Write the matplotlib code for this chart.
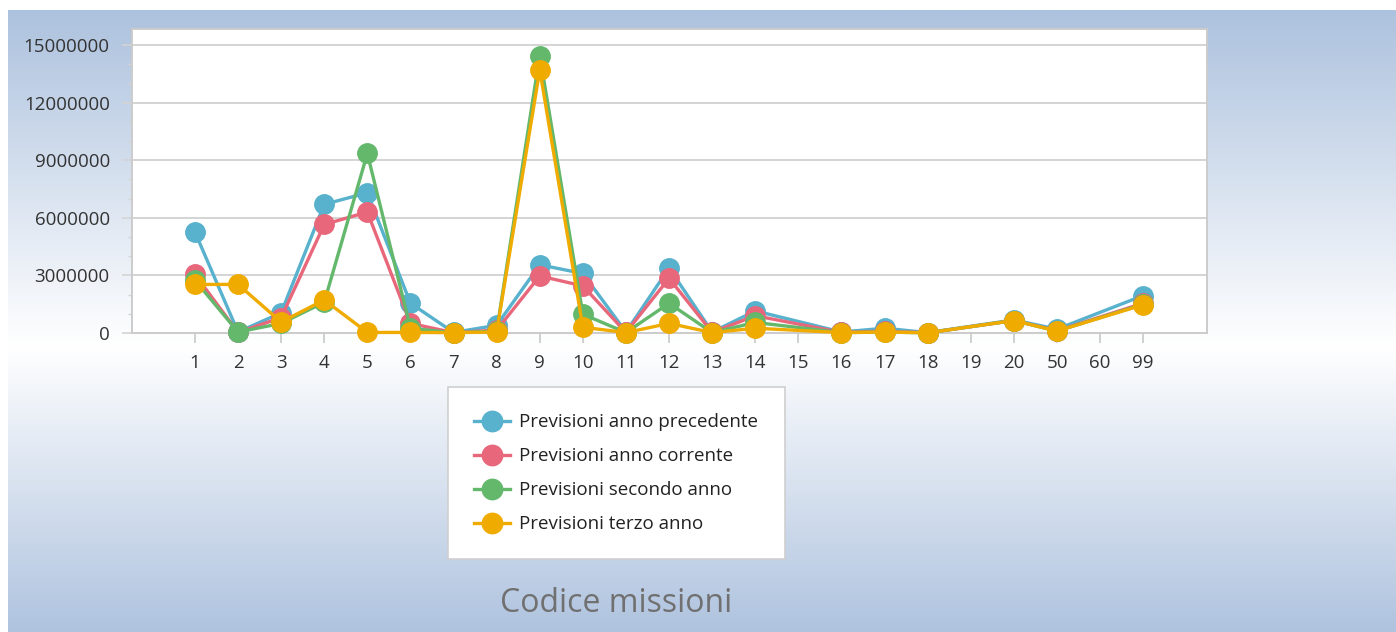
import numpy as np
import matplotlib
matplotlib.use("Agg")
from matplotlib import pyplot as plt
from matplotlib.ticker import MultipleLocator, FuncFormatter
from matplotlib.colors import to_rgb

## chart data (NaN = no value for that code)
nan = np.nan
categories = ["1", "2", "3", "4", "5", "6", "7", "8", "9", "10", "11", "12",
              "13", "14", "15", "16", "17", "18", "19", "20", "50", "60", "99"]
prev_precedente = [5.26e6, 0.05e6, 1.05e6, 6.70e6, 7.30e6, 1.55e6, 0.03e6, 0.40e6,
                   3.55e6, 3.10e6, 0.05e6, 3.38e6, 0.05e6, 1.15e6, nan, 0.05e6,
                   0.25e6, 0.02e6, nan, 0.68e6, 0.20e6, nan, 1.95e6]
prev_corrente = [3.05e6, 0.03e6, 0.80e6, 5.65e6, 6.30e6, 0.50e6, 0.02e6, 0.15e6,
                 2.97e6, 2.45e6, 0.03e6, 2.85e6, 0.03e6, 0.90e6, nan, 0.03e6,
                 0.10e6, 0.01e6, nan, 0.65e6, 0.12e6, nan, 1.55e6]
prev_secondo = [2.75e6, 0.05e6, 0.50e6, 1.60e6, 9.35e6, 0.25e6, 0.01e6, 0.10e6,
                14.45e6, 0.98e6, 0.02e6, 1.55e6, 0.02e6, 0.55e6, nan, 0.02e6,
                0.05e6, 0.01e6, nan, 0.65e6, 0.10e6, nan, 1.50e6]
prev_terzo = [2.53e6, 2.53e6, 0.57e6, 1.72e6, 0.03e6, 0.03e6, 0.02e6, 0.05e6,
              13.70e6, 0.30e6, 0.02e6, 0.50e6, 0.02e6, 0.25e6, nan, 0.02e6,
              0.05e6, 0.01e6, nan, 0.65e6, 0.10e6, nan, 1.47e6]

series_labels = ["Previsioni anno precedente", "Previsioni anno corrente",
                 "Previsioni secondo anno", "Previsioni terzo anno"]
series_values = [prev_precedente, prev_corrente, prev_secondo, prev_terzo]
colours = ["#58b1cd", "#e8677b", "#64b86c", "#f0ab00"]

plt.rcParams["font.family"] = ["Open Sans", "DejaVu Sans"]

W, H = 1396, 632
fig = plt.figure(figsize=(W / 100, H / 100), dpi=100)
fig.patch.set_facecolor("white")

## gradient background: blue at top, white in the middle, blue again at bottom
top = np.array(to_rgb("#adc2de"))
mid = np.array(to_rgb("#ffffff"))
bot = np.array(to_rgb("#afc3df"))
t = np.linspace(0, 1, 400)[:, None]
split = 0.54
grad = np.where(t < split,
                top + (mid - top) * (t / split),
                mid + (bot - mid) * ((t - split) / (1 - split)))
bg = fig.add_axes([8 / W, 0, 1 - 8 / W, 1 - 10 / H], zorder=-5)
bg.imshow(grad[:, None, :], aspect="auto", extent=(0, 1, 0, 1))
bg.axis("off")

## main plot area
x0, x1, y0, y1 = 132, 1207, 29, 333
ax = fig.add_axes([x0 / W, 1 - y1 / H, (x1 - x0) / W, (y1 - y0) / H])
ax.set_facecolor("white")

x = np.arange(len(categories))
for vals, col, lab in zip(series_values, colours, series_labels):
    v = np.array(vals, dtype=float)
    ok = ~np.isnan(v)
    ax.plot(x[ok], v[ok], color=col, lw=2.4, marker="o", ms=14,
            label=lab, clip_on=False, zorder=3)

ax.set_xlim(-1.46, len(categories) - 1 + 1.48)
ax.set_ylim(0, 15.83e6)

ax.yaxis.set_major_locator(MultipleLocator(3e6))
ax.yaxis.set_minor_locator(MultipleLocator(1e6))
ax.yaxis.set_major_formatter(FuncFormatter(lambda v, p: "%d" % round(v)))
ax.grid(axis="y", color="#d4d4d4", lw=1.4, zorder=0)
ax.set_axisbelow(True)

ax.set_xticks(x)
ax.set_xticklabels(categories)

ax.tick_params(axis="y", which="major", length=7, width=1.2, color="#d4d4d4",
               labelsize=13.5, labelcolor="#333333", pad=9)
ax.tick_params(axis="y", which="minor", length=3, width=1, color="#d4d4d4")
ax.tick_params(axis="x", length=7, width=1.2, color="#c8c8c8",
               labelsize=13.5, labelcolor="#333333", pad=8)

for s in ax.spines.values():
    s.set_color("#cccccc")
    s.set_linewidth(1.4)

## legend
lh = 0.1
leg = fig.legend(loc="upper left",
                 bbox_to_anchor=(448 / W, 1 - 387 / H - lh, 337 / W, lh),
                 mode="expand", fontsize=13.5, frameon=True, fancybox=False,
                 framealpha=1, facecolor="white",
                 handlelength=1.9, handletextpad=0.5, labelspacing=0.85,
                 borderpad=1.4, markerscale=1.05, borderaxespad=0)
leg.get_frame().set_edgecolor("#cfcfcf")
leg.get_frame().set_linewidth(1.2)
for txt in leg.get_texts():
    txt.set_color("#222222")

fig.text(616 / W, 1 - 603 / H, "Codice missioni", ha="center", va="center",
         fontsize=23, color="#707070")

fig.savefig("out.png", dpi=100)
